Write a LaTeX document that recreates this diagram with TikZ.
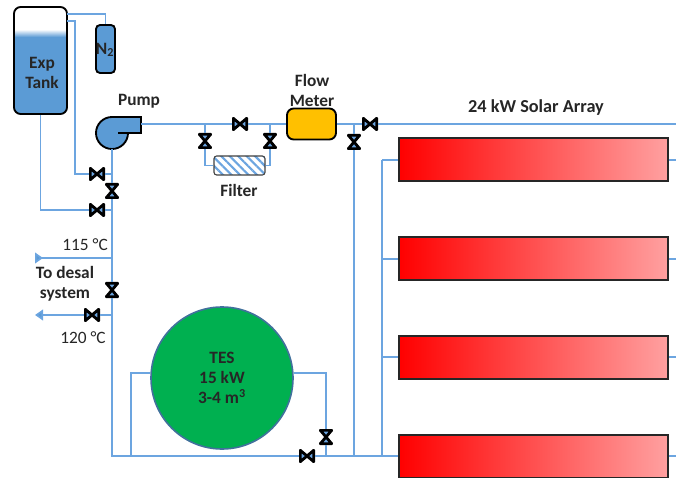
\documentclass[tikz,border=0pt]{standalone}
\usepackage{fontspec}
\setmainfont{Carlito}
\usetikzlibrary{arrows.meta,patterns.meta}
\newcommand{\px}{0.75pt}
\definecolor{pipeblue}{RGB}{108,165,224}
\definecolor{tankblue}{RGB}{91,155,213}
\definecolor{meteryellow}{RGB}{255,192,0}
\definecolor{tesgreen}{RGB}{0,176,80}
\definecolor{tesedge}{RGB}{65,113,156}
\definecolor{solarpale}{RGB}{255,160,160}
\definecolor{textgray}{RGB}{38,38,38}
\pgfdeclareverticalshading{tankshade}{100bp}{color(0bp)=(tankblue); color(61bp)=(tankblue); color(64.5bp)=(white); color(100bp)=(white)}

\begin{document}
\begin{tikzpicture}[x=\px,y=-\px,font=\fontsize{13}{15}\selectfont,text=textgray]
\tikzset{
    %Define arrow style
    pipe/.style={
           draw=pipeblue,
           line width=1.3pt},
    %Define style for labels
    lbl/.style={
           align=center,
           inner sep=0pt},
    lblbold/.style={
           lbl,
           font=\fontsize{13}{15}\selectfont\bfseries},
    %Define style for vessels
    vessel/.style={
           rectangle,
           rounded corners=5pt,
           draw=black,
           line width=1.4pt,
           inner sep=0pt},
    solar/.style={
           rectangle,
           draw=black!85,
           line width=1.5pt,
           left color=red,
           right color=solarpale,
           minimum width=269*\px,
           minimum height=43*\px},
    %Define style for valves
    valvebase/.style={
           rectangle,
           inner sep=0pt,
           outer sep=0pt},
    valveh/.style={
           valvebase,
           minimum width=16*\px,
           minimum height=14*\px,
           path picture={
             \draw[fill=pipeblue,line width=2.1pt,line join=round]
               ([shift={(1pt,-1pt)}]path picture bounding box.north west) --
               ([shift={(-1pt,1pt)}]path picture bounding box.south east) --
               ([shift={(-1pt,-1pt)}]path picture bounding box.north east) --
               ([shift={(1pt,1pt)}]path picture bounding box.south west) -- cycle;}},
    valvev/.style={
           valvebase,
           minimum width=14*\px,
           minimum height=16*\px,
           path picture={
             \draw[fill=pipeblue,line width=2.1pt,line join=round]
               ([shift={(1pt,-1pt)}]path picture bounding box.north west) --
               ([shift={(-1pt,-1pt)}]path picture bounding box.north east) --
               ([shift={(1pt,1pt)}]path picture bounding box.south west) --
               ([shift={(-1pt,1pt)}]path picture bounding box.south east) -- cycle;}}
}
	\useasboundingbox (0,0) rectangle (676,478);

 %vessels
	\node[vessel,shading=tankshade,minimum width=53*\px,minimum height=107*\px] (exptank) at (40.5,60.5) {};
	\node[lblbold] (tanklabel) at (42,73) {Exp\\Tank};
	\node[vessel,rounded corners=3pt,fill=tankblue,minimum width=19*\px,minimum height=48*\px] (nitrogen) at (105.5,49) {};
	\node[lblbold] (nitrogenlabel) at (105,50) {N\textsubscript{2}};
	\node[vessel,fill=meteryellow,minimum width=49*\px,minimum height=31*\px] (flowmeter) at (311.5,124) {};
	\node[vessel,rounded corners=2pt,draw=black!75,line width=0.8pt,pattern={Lines[angle=-45,distance=4.5pt,line width=1.6pt]},pattern color=pipeblue,minimum width=51*\px,minimum height=19*\px] (filter) at (239.5,165.5) {};
	\node[circle,draw=tesedge,line width=1.2pt,fill=tesgreen,minimum size=142*\px,inner sep=0pt] (tes) at (222,378) {};
	\node[lblbold] (teslabel) at (222,378) {TES\\15 kW\\3-4 m\textsuperscript{3}};
	\foreach \rownum/\rowy in {1/160,2/259,3/357,4/456}
		\node[solar] (array\rownum) at (533.5,\rowy) {};

 %pump
	\draw[fill=tankblue,draw=black,line width=1.4pt] (128,133) arc[start angle=0,end angle=270,radius=16] -- (141,117) -- (141,133) -- (118,133);
	\coordinate (pumpin) at (112,149);
	\coordinate (pumpout) at (141,124);

 %valves
	\node[valveh] (vtank) at (97,174) {};
	\node[valvev] (vmain) at (112,191) {};
	\node[valveh] (vdrain) at (97,210) {};
	\node[valvev] (vdesal) at (112,290) {};
	\node[valveh] (vreturn) at (92,315) {};
	\node[valvev] (vfilterin) at (205,141) {};
	\node[valveh] (vbypass) at (240,124) {};
	\node[valvev] (vfilterout) at (270,141) {};
	\node[valvev] (vriser) at (354,142) {};
	\node[valveh] (vsolar) at (370,124) {};
	\node[valvev] (vtes) at (326,437) {};
	\node[valveh] (vbottom) at (307,456) {};

 %junctions
	\coordinate (jtank) at (112,174);
	\coordinate (jdrain) at (112,210);
	\coordinate (jhot) at (112,258);
	\coordinate (jcold) at (112,315);
	\coordinate (jcorner) at (112,456);
	\coordinate (jtesleft) at (131,456);
	\coordinate (jfilterin) at (205,124);
	\coordinate (jfilterout) at (270,124);
	\coordinate (jriser) at (354,124);
	\coordinate (jsolar) at (676,124);
	\coordinate (jtesright) at (326,456);
	\coordinate (jriserbottom) at (354,456);
	\coordinate (riser) at (382,160);
	\coordinate (hotend) at (35,258);
	\coordinate (coldend) at (35,315);

 %pipes
	\draw[pipe] (67,14) -| (nitrogen.north);
	\draw[pipe] (67,21) -| (75,174) -- (vtank.west);
	\draw[pipe] (exptank.south) |- (vdrain.west);
	\draw[pipe] (vtank.east) -- (jtank);
	\draw[pipe] (vdrain.east) -- (jdrain);
	\draw[pipe] (pumpin) -- (vmain.north);
	\draw[pipe] (vmain.south) -- (vdesal.north);
	\draw[pipe] (vdesal.south) -- (jcorner) -- (vbottom.west);
	\draw[pipe] (vbottom.east) -- (array4.west);
	\draw[pipe] (pumpout) -- (vbypass.west);
	\draw[pipe] (vbypass.east) -- (flowmeter.west);
	\draw[pipe] (flowmeter.east) -- (vsolar.west);
	\draw[pipe] (vsolar.east) -- (jsolar);
	\draw[pipe] (jfilterin) -- (vfilterin.north);
	\draw[pipe] (vfilterin.south) |- (filter.west);
	\draw[pipe] (jfilterout) -- (vfilterout.north);
	\draw[pipe] (vfilterout.south) |- (filter.east);
	\draw[pipe] (jriser) -- (vriser.north);
	\draw[pipe] (vriser.south) -- (jriserbottom);
	\draw[pipe] (riser) -- (array4.west -| riser);
	\draw[pipe] (tes.west |- 0,373) -| (jtesleft);
	\draw[pipe] (tes.east |- 0,373) -| (vtes.north);
	\draw[pipe] (vtes.south) -- (jtesright);
	\draw[pipe,-{Triangle[reversed,length=6pt,width=8pt,fill=tankblue]}] (jhot) -- (hotend);
	\draw[pipe,-{Triangle[length=6pt,width=8pt,fill=tankblue]}] (vreturn.west) -- (coldend);
	\draw[pipe] (vreturn.east) -- (jcold);
	\foreach \rownum/\rowy in {1/160,2/259,3/357}
		\draw[pipe] (array\rownum.west) -- (array\rownum.west -| riser);
	\foreach \rownum/\rowy in {1/160,2/259,3/357,4/456}
		\draw[pipe] (array\rownum.east) -- (676,\rowy);

 %labels
	\node[lblbold] (pumplabel) at (139,101) {Pump};
	\node[lblbold] (flowlabel) at (312,90) {Flow\\Meter};
	\node[lblbold] (filterlabel) at (239,190) {Filter};
	\node[lblbold,font=\fontsize{13.7}{15}\selectfont\bfseries] (solarlabel) at (536,108) {24 kW Solar Array};
	\node[lbl,anchor=east] (hotlabel) at (108,245) {115 °C};
	\node[lbl] (coldlabel) at (83,338) {120 °C};
	\node[lblbold] (desallabel) at (65,284) {To desal\\system};

\end{tikzpicture}
\end{document}
